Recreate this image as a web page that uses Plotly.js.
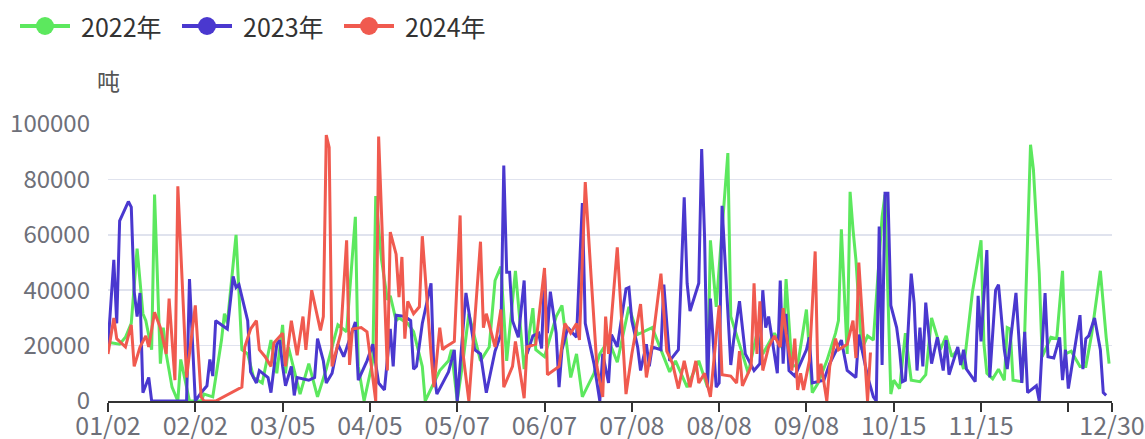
<!DOCTYPE html>
<html>
<head>
<meta charset="utf-8">
<script src="https://cdn.plot.ly/plotly-3.0.1.min.js"></script>
<style>html,body{margin:0;padding:0;background:#fff}#chart{width:1145px;height:439px}</style>
</head>
<body>
<div id="chart"></div>
<script>
const seriesNames = ['2022年', '2023年', '2024年'];
const seriesColors = ['#5ce85e', '#4a38cf', '#f05a4f'];
const unitLabel = '吨';

const monthDays = [31, 29, 31, 30, 31, 30, 31, 31, 30, 31, 30, 31];
const firstDay = '01/02';
const lastDay = '12/30';
const excludedDays = ['02/01', '03/03', '03/04', '04/04', '05/05', '05/06', '06/06', '07/07', '08/07', '09/07',
  '10/01', '10/02', '10/03', '10/04', '10/05', '10/06', '10/07', '11/14'];

const tickDates = ['01/02', '02/02', '03/05', '04/05', '05/07', '06/07', '07/08', '08/08', '09/08', '10/15', '11/15', '12/15', '12/30'];
const tickLabels = ['01/02', '02/02', '03/05', '04/05', '05/07', '06/07', '07/08', '08/08', '09/08', '10/15', '11/15', '', '12/30'];

const dates2022 = ['01/03','01/06','01/08','01/10','01/12','01/14','01/15','01/17','01/18','01/20',
'01/21','01/22','01/24','01/26','01/27','01/30','02/04','02/05','02/08','02/11',
'02/12','02/13','02/16','02/18','02/20','02/22','02/25','02/28','03/01','03/05',
'03/06','03/07','03/11','03/14','03/17','03/20','03/24','03/27','03/30','03/31',
'04/02','04/06','04/07','04/09','04/11','04/12','04/14','04/15','04/18','04/20',
'04/23','04/24','04/29','05/02','05/03','05/07','05/09','05/11','05/13','05/15',
'05/18','05/20','05/22','05/24','05/27','05/29','05/30','06/02','06/03','06/07',
'06/11','06/13','06/16','06/18','06/20','06/24','06/26','06/29','07/02','07/06',
'07/10','07/15','07/18','07/21','07/23','07/27','07/31','08/03','08/04','08/06',
'08/11','08/12','08/16','08/18','08/21','08/23','08/27','08/30','08/31','09/02',
'09/04','09/08','09/10','09/12','09/15','09/18','09/19','09/20','09/22','09/23',
'09/24','09/25','09/27','09/29','10/08','10/11','10/12','10/14','10/15','10/17',
'10/19','10/21','10/24','10/26','10/28','10/30','10/31','11/02','11/04','11/06',
'11/08','11/11','11/15','11/16','11/17','11/19','11/21','11/23','11/24','11/25',
'11/26','11/29','11/30','12/02','12/03','12/05','12/06','12/09','12/11','12/13',
'12/14','12/16','12/19','12/21','12/23','12/26','12/28','12/29'];
const values2022 = [21000,20500,23000,28000,55000,31500,29000,18500,74500,13500,
26500,17000,5000,0,15000,0,0,2500,1500,22000,
31500,28000,60000,18500,17000,8500,6500,22000,10000,27500,
10000,19500,2500,13500,1500,11500,27500,25000,66500,12500,
0,14500,74000,51000,36500,38000,29000,30000,28000,25000,
12500,0,11000,14500,18500,0,14500,31500,23000,14500,
19500,43500,48500,14500,47000,24500,11500,33500,18500,16000,
30500,34500,8500,17000,1500,10000,17000,22000,14000,34000,
24000,26500,18500,10500,14500,5000,14500,5000,58000,34000,
89500,30500,17000,10000,24500,17000,24500,18500,44000,12500,
13000,33000,3000,6500,14500,24500,29000,62000,17000,75500,
62000,51000,18500,23500,22000,66500,74500,2500,7500,4500,
24500,7500,7000,9500,30000,23000,18500,23500,16000,18500,
11500,39000,58000,20500,10000,8000,11500,7500,26500,26000,
7500,7000,24500,92500,83500,46000,16000,23000,22500,47000,
17000,18000,12500,12500,24000,47000,23000,13500];

const dates2023 = ['01/02','01/04','01/05','01/06','01/09','01/10','01/11','01/12','01/13','01/14',
'01/16','01/17','01/29','01/30','02/02','02/04','02/06','02/07','02/08','02/09',
'02/13','02/15','02/16','02/17','02/20','02/21','02/23','02/24','02/27','02/28',
'03/01','03/02','03/05','03/06','03/08','03/09','03/10','03/14','03/16','03/17',
'03/19','03/20','03/22','03/24','03/26','03/30','03/31','04/03','04/06','04/08',
'04/10','04/12','04/13','04/14','04/17','04/19','04/20','04/21','04/23','04/26',
'04/27','04/28','05/02','05/04','05/07','05/10','05/13','05/15','05/17','05/20',
'05/22','05/23','05/24','05/25','05/26','05/28','05/30','05/31','06/02','06/04',
'06/05','06/07','06/08','06/09','06/11','06/12','06/13','06/15','06/18','06/20',
'06/21','06/24','06/26','06/27','06/29','06/30','07/02','07/05','07/06','07/08',
'07/10','07/11','07/13','07/14','07/15','07/18','07/19','07/21','07/24','07/26',
'07/27','07/28','07/31','08/01','08/02','08/03','08/04','08/06','08/08','08/09',
'08/12','08/13','08/15','08/17','08/20','08/22','08/23','08/24','08/25','08/28',
'08/29','08/30','08/31','09/01','09/03','09/08','09/09','09/10','09/14','09/16',
'09/20','09/22','09/25','09/26','09/29','10/08','10/09','10/10','10/11','10/12',
'10/13','10/14','10/16','10/17','10/18','10/19','10/21','10/22','10/23','10/24',
'10/25','10/26','10/28','10/30','11/01','11/02','11/03','11/06','11/07','11/08',
'11/09','11/12','11/13','11/15','11/17','11/18','11/20','11/21','11/23','11/24',
'11/27','11/29','11/30','12/01','12/04','12/05','12/07','12/08','12/10','12/12',
'12/13','12/14','12/15','12/17','12/19','12/20','12/21','12/22','12/24','12/26',
'12/27','12/28'];
const values2023 = [20000,51000,28000,65000,72000,70000,39500,30500,39000,3000,
8500,0,0,44000,0,3000,5500,15000,9000,29000,
26000,45000,41000,42000,29000,10500,6500,11000,8500,3000,
20500,22000,12500,5500,12500,2000,8500,7500,8500,22500,
14500,6500,10000,20500,16000,28500,7500,14500,20500,6500,
4000,26000,12500,31000,30500,29000,11500,12500,28000,42500,
10500,2500,10500,18500,0,39000,18500,17000,3000,18000,
24000,85000,46500,46500,29000,23000,43500,17000,23500,24500,
19000,46000,24500,39500,24500,5000,18500,26500,23000,71500,
28000,13500,0,17000,6500,24000,19500,40500,41000,29000,
19500,11000,20500,12500,19500,18500,42000,14500,18500,73500,
42500,32500,42500,91000,59000,5000,37000,5000,6500,70500,
13000,22000,36000,17000,11000,13500,40000,26500,30500,10000,
43500,13500,31500,11000,9000,18500,23000,6500,7500,13500,
22000,11000,8500,24000,9000,1500,0,63000,13000,75000,
75000,34500,26500,18500,7000,7500,46000,35500,11000,26500,
12500,35500,13500,23000,11000,22000,9500,19500,13000,18500,
11500,7000,38000,21500,54500,8500,40000,42000,18500,11500,
39000,6500,25000,3000,5500,0,39000,16000,15500,23000,
7500,18500,4500,17000,31000,11500,22500,23500,30000,18500,
3000,2000];

const dates2024 = ['01/02','01/04','01/05','01/08','01/10','01/11','01/13','01/15','01/16','01/18',
'01/20','01/22','01/23','01/25','01/26','01/29','02/02','02/04','02/05','02/09',
'02/18','02/19','02/21','02/23','02/24','02/26','02/28','02/29','03/05','03/06',
'03/08','03/10','03/12','03/13','03/15','03/18','03/19','03/20','03/21','03/22',
'03/25','03/27','03/28','03/29','04/01','04/03','04/07','04/08','04/11','04/12',
'04/14','04/15','04/16','04/17','04/18','04/20','04/22','04/23','04/26','04/27',
'04/29','04/30','05/01','05/04','05/08','05/09','05/11','05/13','05/15','05/16',
'05/17','05/20','05/22','05/23','05/26','05/27','05/30','05/31','06/03','06/07',
'06/08','06/12','06/14','06/16','06/18','06/19','06/21','06/23','06/25','06/27',
'06/28','06/29','07/02','07/05','07/08','07/11','07/13','07/15','07/18','07/20',
'07/22','07/24','07/26','07/28','07/30','07/31','08/02','08/04','08/08','08/09',
'08/12','08/14','08/15','08/16','08/19','08/20','08/21','08/22','08/23','08/25',
'08/27','08/29','08/30','08/31','09/02','09/03','09/04','09/05','09/06','09/09',
'09/11','09/12','09/13','09/15','09/16','09/18','09/19','09/22','09/24','09/25',
'09/26','09/29','09/30'];
const values2024 = [17000,30000,22500,19500,27500,12500,19500,23500,19500,32000,
26500,17000,37000,7500,77500,8500,34500,1500,0,0,
5000,19500,26000,29000,18500,16000,12500,21000,24500,12500,
29000,16500,30500,18500,40000,25500,30500,96000,91500,12500,
24500,58000,13000,26000,26500,25000,0,95500,11000,61000,
53000,37500,52000,22500,36000,31500,34000,59500,17000,5000,
26500,18500,19500,21500,67000,17000,0,30500,57500,26500,
31500,19500,33000,5000,12500,21500,1000,19500,20500,48000,
9500,12500,28000,24500,28000,22000,79000,45000,12500,1500,
30500,17000,55500,2500,17000,35000,8500,20500,46000,18000,
13500,4500,14500,5000,14500,6500,10000,1500,34500,9500,
9000,6500,18000,5500,12500,42500,17000,36000,11000,19500,
23500,19500,33500,24500,11000,22500,4000,10000,4000,14500,
54000,6500,13500,0,12500,22500,18500,20500,29000,15500,
50000,0,17500];

// category axis (MM/DD) built from the calendar
function pad(n) { return String(n).padStart(2, '0'); }
const categories = [];
let inRange = false;
for (let m = 1; m <= 12; m++) {
  for (let d = 1; d <= monthDays[m - 1]; d++) {
    const s = pad(m) + '/' + pad(d);
    if (s === firstDay) inRange = true;
    if (inRange && excludedDays.indexOf(s) < 0) categories.push(s);
    if (s === lastDay) inRange = false;
  }
}

const seriesDates = [dates2022, dates2023, dates2024];
const seriesValues = [values2022, values2023, values2024];

const traces = [];
for (let i = 0; i < 3; i++) {
  traces.push({
    type: 'scatter', mode: 'lines', name: seriesNames[i], showlegend: false,
    x: seriesDates[i], y: seriesValues[i],
    line: { color: seriesColors[i], width: 3 }
  });
}

// page geometry (pixels) for the legend drawn above the plot
const W = 1145, H = 439;
const M = { l: 108, r: 33, t: 124, b: 38 };
const plotW = W - M.l - M.r, plotH = H - M.t - M.b;
const px = v => (v - M.l) / plotW;
const py = v => (H - M.b - v) / plotH;
const legendY = 26, legendLeft = 20, legendStep = 162, legendLine = 50, legendTextGap = 10, legendDot = 9;

const fontFamily = '"Noto Sans CJK SC", "Noto Sans", sans-serif';
const shapes = [];
const annotations = [];
for (let i = 0; i < 3; i++) {
  const x0 = legendLeft + i * legendStep;
  shapes.push({ type: 'line', xref: 'paper', yref: 'paper', x0: px(x0), x1: px(x0 + legendLine), y0: py(legendY), y1: py(legendY),
    line: { color: seriesColors[i], width: 4 } });
  shapes.push({ type: 'circle', xref: 'paper', yref: 'paper', xsizemode: 'pixel', ysizemode: 'pixel',
    xanchor: px(x0 + legendLine / 2), yanchor: py(legendY), x0: -legendDot, x1: legendDot, y0: -legendDot, y1: legendDot,
    fillcolor: seriesColors[i], line: { width: 0 } });
  annotations.push({ text: seriesNames[i], xref: 'paper', yref: 'paper', x: px(x0 + legendLine + legendTextGap), y: py(legendY),
    xanchor: 'left', yanchor: 'middle', showarrow: false, borderpad: 0,
    font: { family: fontFamily, size: 25, color: '#333333' } });
}
annotations.push({
  text: unitLabel, xref: 'paper', yref: 'paper', x: 0, y: py(80),
  xanchor: 'center', yanchor: 'middle', showarrow: false,
  font: { family: fontFamily, size: 23, color: '#555555' }
});

const layout = {
  width: W, height: H,
  margin: { l: M.l, r: M.r, t: M.t, b: M.b, pad: 0 },
  paper_bgcolor: '#ffffff', plot_bgcolor: '#ffffff',
  font: { family: fontFamily, size: 24, color: '#6e7079' },
  showlegend: false,
  xaxis: {
    type: 'category', categoryorder: 'array', categoryarray: categories,
    range: [0, categories.length - 1],
    tickmode: 'array', tickvals: tickDates, ticktext: tickLabels,
    ticks: 'outside', ticklen: 9, tickwidth: 2, tickcolor: '#333333',
    showline: true, linecolor: '#333333', linewidth: 2,
    showgrid: false, zeroline: false, tickangle: 0, automargin: false, fixedrange: true,
    ticklabelstandoff: -7,
    tickfont: { family: fontFamily, size: 25, color: '#6e7079' }
  },
  yaxis: {
    range: [0, 100000], tick0: 0, dtick: 20000, tickformat: 'd',
    showgrid: true, gridcolor: '#e0e3ee', gridwidth: 1.5,
    zeroline: false, showline: false, ticks: '', ticklabelstandoff: 17,
    automargin: false, fixedrange: true,
    tickfont: { family: fontFamily, size: 24, color: '#6e7079' }
  },
  shapes: shapes,
  annotations: annotations
};

Plotly.newPlot('chart', traces, layout, { displayModeBar: false, staticPlot: true });
</script>
</body>
</html>
